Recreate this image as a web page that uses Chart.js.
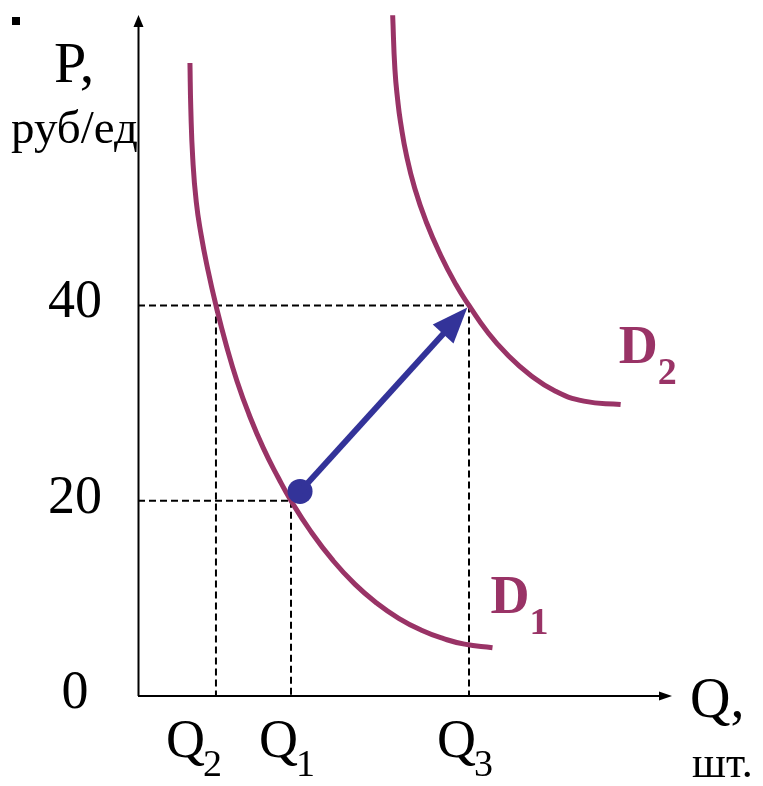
<!DOCTYPE html>
<html lang="ru">
  <head>
    <meta charset="UTF-8" />
    <title>Сдвиг кривой спроса</title>
    <style>
      html, body { margin: 0; padding: 0; background: #fff; }
      canvas { display: block; }
    </style>
  </head>
  <body>
    <canvas id="myChart" width="763" height="786"></canvas>

    <script src="https://cdn.jsdelivr.net/npm/chart.js@4/dist/chart.umd.min.js"></script>
    <script>
      // demand curves (Q in units of the axis, P in руб/ед)
      const d1Q = [5.35, 5.44, 5.64, 6.0, 6.5, 7.17, 8.03, 9.12, 10.2, 11.42, 12.9, 14.45, 15.76, 17.74, 20.08, 22.36, 24.62, 26.85, 29.2, 31.48, 33.63, 36.51];
      const d1P = [64.83, 60.13, 55.03, 50.61, 47.24, 43.78, 40, 35.82, 32.24, 28.88, 25.41, 22.35, 20, 16.94, 13.88, 11.43, 9.49, 7.96, 6.73, 5.87, 5.31, 4.95];
      const d2Q = [26.23, 26.46, 26.77, 27.04, 27.65, 28.51, 29.68, 31.16, 32.76, 34.09, 35.94, 38.03, 40.33, 43.0, 45.93, 49.71];
      const d2P = [69.72, 64.21, 60.82, 58.78, 55.38, 51.97, 48.57, 45.17, 42.11, 40, 37.35, 34.97, 32.93, 31.22, 30.2, 29.85];

      const priceTicks = [0, 20, 40];
      const qNames = ["Q", "Q", "Q"];
      const qSubs = ["2", "1", "3"];
      const qValues = [8.03, 15.76, 34.09];
      const qPrices = [40, 20, 40];

      const arrowFrom = [16.69, 20.95];
      const arrowTo = [33.92, 39.8];

      const X_MAX = 55;
      const Y_MAX = 70;

      const magenta = "#993366";
      const blue = "#333399";
      const serif = "'Liberation Serif', 'Times New Roman', serif";

      const toPts = (xs, ys) => xs.map((x, i) => ({ x: x, y: ys[i] }));

      // dashed guides: horizontal to the farthest Q at a price, vertical from each Q down to the axis
      const guideSets = [];
      priceTicks.filter(p => p > 0).forEach(p => {
        const xEnd = Math.max(...qValues.filter((q, i) => qPrices[i] === p));
        guideSets.push([{ x: 0, y: p }, { x: xEnd, y: p }]);
      });
      qValues.forEach((q, i) => {
        guideSets.push([{ x: q, y: qPrices[i] }, { x: q, y: 0 }]);
      });

      const datasets = [
        {
          label: "dot",
          data: [{ x: arrowFrom[0], y: arrowFrom[1] }],
          showLine: false,
          pointRadius: 12.5,
          pointBackgroundColor: blue,
          pointBorderWidth: 0
        },
        {
          label: "D1",
          data: toPts(d1Q, d1P),
          borderColor: magenta,
          borderWidth: 5,
          tension: 0.5,
          pointRadius: 0
        },
        {
          label: "D2",
          data: toPts(d2Q, d2P),
          borderColor: magenta,
          borderWidth: 5,
          tension: 0.5,
          pointRadius: 0
        }
      ];
      guideSets.forEach(g => {
        datasets.push({
          label: "guide",
          data: g,
          borderColor: "#000",
          borderWidth: 2,
          borderDash: [7, 4],
          pointRadius: 0
        });
      });

      const decor = {
        id: "decor",
        beforeDatasetsDraw(chart) {
          const ctx = chart.ctx;
          const xs = chart.scales.x;
          const ys = chart.scales.y;
          const x0 = xs.getPixelForValue(0);
          const y0 = ys.getPixelForValue(0);
          const top = ys.getPixelForValue(Y_MAX) + 2.5;
          const right = xs.getPixelForValue(X_MAX);

          ctx.save();
          ctx.strokeStyle = "#000";
          ctx.fillStyle = "#000";
          ctx.lineWidth = 2;
          ctx.beginPath();
          ctx.moveTo(x0 + 0.5, y0);
          ctx.lineTo(x0 + 0.5, top + 10);
          ctx.moveTo(x0, y0);
          ctx.lineTo(right - 10, y0);
          ctx.stroke();
          // arrow heads
          ctx.beginPath();
          ctx.moveTo(x0 + 0.5, top);
          ctx.lineTo(x0 - 4.5, top + 12);
          ctx.lineTo(x0 + 5.5, top + 12);
          ctx.closePath();
          ctx.fill();
          ctx.beginPath();
          ctx.moveTo(right, y0);
          ctx.lineTo(right - 13, y0 - 4.5);
          ctx.lineTo(right - 13, y0 + 4.5);
          ctx.closePath();
          ctx.fill();
          ctx.restore();
        },
        afterDatasetsDraw(chart) {
          const ctx = chart.ctx;
          const xs = chart.scales.x;
          const ys = chart.scales.y;
          const x0 = xs.getPixelForValue(0);
          const y0 = ys.getPixelForValue(0);

          // blue arrow
          const ax = xs.getPixelForValue(arrowFrom[0]);
          const ay = ys.getPixelForValue(arrowFrom[1]);
          const bx = xs.getPixelForValue(arrowTo[0]);
          const by = ys.getPixelForValue(arrowTo[1]);
          const len = Math.hypot(bx - ax, by - ay);
          const ux = (bx - ax) / len;
          const uy = (by - ay) / len;
          const headLen = 36, headHalf = 14;
          const hx = bx - ux * headLen;
          const hy = by - uy * headLen;
          ctx.save();
          ctx.strokeStyle = blue;
          ctx.fillStyle = blue;
          ctx.lineWidth = 6;
          ctx.beginPath();
          ctx.moveTo(ax, ay);
          ctx.lineTo(hx + ux * 2, hy + uy * 2);
          ctx.stroke();
          ctx.beginPath();
          ctx.moveTo(bx, by);
          ctx.lineTo(hx - uy * headHalf, hy + ux * headHalf);
          ctx.lineTo(hx + uy * headHalf, hy - ux * headHalf);
          ctx.closePath();
          ctx.fill();
          ctx.restore();

          ctx.save();
          ctx.fillStyle = "#000";
          ctx.fillRect(12, 17, 8, 8);

          // price ticks
          ctx.font = "54px " + serif;
          ctx.textAlign = "center";
          ctx.textBaseline = "alphabetic";
          priceTicks.forEach(p => {
            ctx.fillText(String(p), x0 - 63, ys.getPixelForValue(p) + 12);
          });

          // Q ticks with subscripts
          ctx.textAlign = "left";
          qValues.forEach((q, i) => {
            const px = xs.getPixelForValue(q);
            const left = px - (i === 0 ? 50 : 32);
            ctx.font = "54px " + serif;
            ctx.fillText(qNames[i], left, y0 + 61);
            const w = ctx.measureText(qNames[i]).width;
            ctx.font = "38px " + serif;
            ctx.fillText(qSubs[i], left + w - 2, y0 + 80);
          });

          // axis titles
          ctx.font = "58px " + serif;
          ctx.fillText("P,", 54, 82);
          ctx.font = "47px " + serif;
          ctx.fillText("руб/ед", 11, 143);
          ctx.font = "56px " + serif;
          ctx.fillText("Q,", 690, 717);
          ctx.font = "44px " + serif;
          ctx.fillText("шт.", 692, 777);

          // curve names near the curve ends
          ctx.fillStyle = magenta;
          [["1", d1Q, d1P, 35], ["2", d2Q, d2P, 42]].forEach(([sub, qs, ps, up]) => {
            const ex = xs.getPixelForValue(qs[qs.length - 1]);
            const ey = ys.getPixelForValue(ps[ps.length - 1]);
            ctx.font = "bold 54px " + serif;
            ctx.fillText("D", ex - 2, ey - up);
            const w = ctx.measureText("D").width;
            ctx.font = "bold 38px " + serif;
            ctx.fillText(sub, ex - 2 + w, ey - up + 21);
          });
          ctx.restore();
        }
      };

      const ctx = document.getElementById("myChart").getContext("2d");
      new Chart(ctx, {
        type: "line",
        data: { datasets: datasets },
        options: {
          responsive: false,
          animation: false,
          events: [],
          layout: { padding: { left: 138, right: 91, top: 10, bottom: 90 } },
          plugins: { legend: { display: false }, tooltip: { enabled: false } },
          scales: {
            x: { type: "linear", min: 0, max: X_MAX, display: false },
            y: { type: "linear", min: 0, max: Y_MAX, display: false }
          }
        },
        plugins: [decor]
      });
    </script>
  </body>
</html>
